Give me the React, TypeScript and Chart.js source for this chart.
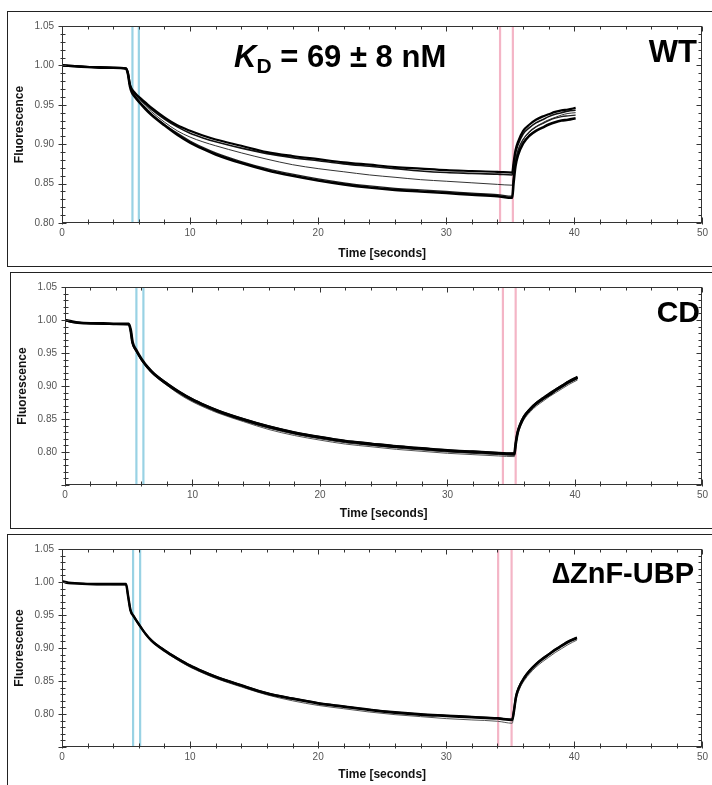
import React, { useEffect, useRef } from "react";
import { Chart, registerables } from "chart.js";

Chart.register(...registerables);

// ---------------- DATA ----------------
const xTickLabels = [0, 10, 20, 30, 40, 50];
const yTickLabels = [0.8, 0.85, 0.9, 0.95, 1.0, 1.05];

// WT panel
const wtTime = [0, 1, 2, 3, 4, 5.0, 5.15, 5.3, 5.45, 5.7, 6, 6.5, 7, 8, 9, 10, 11, 12, 14, 16, 18, 20, 22, 24, 26, 28, 30, 32, 34, 35.15, 35.25, 35.4, 35.6, 36.0, 36.5, 37.0, 37.5, 38.0, 38.5, 39.0, 39.5, 40.1];
const wtTraceA = [1.0, 0.999, 0.998, 0.998, 0.997, 0.996, 0.99, 0.976, 0.97, 0.965, 0.96, 0.953, 0.946, 0.934, 0.924, 0.917, 0.911, 0.906, 0.898, 0.89, 0.885, 0.881, 0.877, 0.874, 0.871, 0.869, 0.867, 0.866, 0.865, 0.864, 0.876, 0.892, 0.903, 0.917, 0.925, 0.931, 0.935, 0.938, 0.941, 0.943, 0.944, 0.946];
const wtTraceB = [1.0, 0.999, 0.998, 0.997, 0.997, 0.996, 0.99, 0.975, 0.969, 0.964, 0.959, 0.951, 0.944, 0.932, 0.922, 0.914, 0.908, 0.903, 0.895, 0.888, 0.883, 0.879, 0.875, 0.872, 0.869, 0.866, 0.864, 0.863, 0.862, 0.861, 0.872, 0.888, 0.899, 0.913, 0.921, 0.927, 0.931, 0.935, 0.938, 0.94, 0.942, 0.943];
const wtTraceC = [1.0, 0.999, 0.998, 0.997, 0.997, 0.996, 0.99, 0.975, 0.968, 0.963, 0.958, 0.949, 0.941, 0.928, 0.917, 0.909, 0.903, 0.898, 0.889, 0.881, 0.874, 0.869, 0.865, 0.861, 0.858, 0.855, 0.853, 0.851, 0.849, 0.848, 0.862, 0.88, 0.892, 0.906, 0.915, 0.922, 0.927, 0.931, 0.934, 0.937, 0.939, 0.94];
const wtTraceD = [1.0, 0.999, 0.998, 0.997, 0.997, 0.996, 0.989, 0.974, 0.966, 0.96, 0.954, 0.945, 0.937, 0.924, 0.912, 0.902, 0.894, 0.887, 0.876, 0.867, 0.86, 0.854, 0.849, 0.845, 0.842, 0.84, 0.838, 0.836, 0.834, 0.832, 0.85, 0.872, 0.886, 0.901, 0.911, 0.917, 0.921, 0.925, 0.928, 0.93, 0.931, 0.933];
const wtTraceE = [1.0, 0.999, 0.998, 0.997, 0.997, 0.996, 0.989, 0.974, 0.967, 0.961, 0.955, 0.946, 0.938, 0.925, 0.914, 0.904, 0.896, 0.889, 0.878, 0.869, 0.862, 0.856, 0.851, 0.847, 0.844, 0.842, 0.84, 0.838, 0.836, 0.834, 0.855, 0.878, 0.892, 0.906, 0.916, 0.922, 0.926, 0.93, 0.933, 0.935, 0.936, 0.937];
const wtCyan = [5.5, 6.0];
const wtPink = [34.2, 35.2];

// CD panel
const cdTime = [0, 0.5, 1, 2, 3, 4, 5.0, 5.15, 5.3, 5.6, 6.0, 6.5, 7, 8, 9, 10, 11, 12, 14, 16, 18, 20, 22, 24, 26, 28, 30, 32, 34, 35.25, 35.35, 35.5, 35.7, 36.0, 36.5, 37.0, 37.5, 38.0, 38.5, 39.0, 39.5, 40.2];
const cdTraceA = [1.0, 0.998, 0.996, 0.995, 0.995, 0.994, 0.994, 0.985, 0.966, 0.954, 0.941, 0.928, 0.918, 0.903, 0.89, 0.879, 0.87, 0.862, 0.849, 0.838, 0.829, 0.822, 0.816, 0.812, 0.808, 0.805, 0.802, 0.8, 0.798, 0.797, 0.812, 0.829, 0.841, 0.853, 0.865, 0.874, 0.881, 0.887, 0.894, 0.9, 0.906, 0.913];
const cdTraceB = [1.0, 0.997, 0.996, 0.995, 0.994, 0.994, 0.993, 0.984, 0.965, 0.953, 0.94, 0.928, 0.918, 0.904, 0.891, 0.88, 0.871, 0.863, 0.85, 0.839, 0.83, 0.823, 0.817, 0.813, 0.809, 0.806, 0.803, 0.801, 0.799, 0.798, 0.813, 0.83, 0.842, 0.854, 0.866, 0.875, 0.882, 0.889, 0.895, 0.901, 0.907, 0.914];
const cdTraceC = [1.0, 0.998, 0.996, 0.995, 0.994, 0.994, 0.993, 0.984, 0.965, 0.953, 0.939, 0.926, 0.916, 0.901, 0.887, 0.876, 0.867, 0.859, 0.846, 0.834, 0.825, 0.818, 0.812, 0.808, 0.804, 0.801, 0.798, 0.796, 0.794, 0.793, 0.808, 0.825, 0.837, 0.849, 0.861, 0.87, 0.877, 0.884, 0.89, 0.896, 0.902, 0.909];
const cdTraceD = [1.0, 0.998, 0.997, 0.995, 0.995, 0.994, 0.994, 0.985, 0.966, 0.954, 0.94, 0.927, 0.917, 0.902, 0.889, 0.877, 0.868, 0.86, 0.847, 0.836, 0.827, 0.82, 0.814, 0.81, 0.806, 0.803, 0.8, 0.798, 0.796, 0.795, 0.81, 0.827, 0.839, 0.851, 0.863, 0.872, 0.879, 0.886, 0.892, 0.898, 0.904, 0.911];
const cdCyan = [5.6, 6.15];
const cdPink = [34.35, 35.35];

// ΔZnF-UBP panel
const znTime = [0, 0.5, 1, 2, 3, 4, 5.0, 5.15, 5.35, 5.6, 6.0, 6.5, 7, 8, 9, 10, 11, 12, 14, 16, 18, 20, 22, 24, 26, 28, 30, 32, 34, 35.15, 35.25, 35.45, 35.7, 36.1, 36.5, 37.0, 37.5, 38.0, 38.5, 39.0, 39.5, 40.2];
const znTraceA = [1.001, 0.999, 0.998, 0.997, 0.997, 0.997, 0.997, 0.98, 0.957, 0.948, 0.936, 0.922, 0.911, 0.896, 0.884, 0.873, 0.864, 0.856, 0.843, 0.831, 0.823, 0.816, 0.811, 0.806, 0.802, 0.799, 0.797, 0.795, 0.793, 0.791, 0.8, 0.826, 0.841, 0.855, 0.865, 0.875, 0.883, 0.89, 0.897, 0.903, 0.909, 0.915];
const znTraceB = [1.001, 0.998, 0.998, 0.997, 0.996, 0.996, 0.996, 0.98, 0.957, 0.948, 0.936, 0.922, 0.911, 0.897, 0.885, 0.874, 0.865, 0.857, 0.844, 0.832, 0.824, 0.817, 0.812, 0.807, 0.803, 0.8, 0.798, 0.796, 0.794, 0.792, 0.802, 0.828, 0.842, 0.856, 0.866, 0.876, 0.884, 0.891, 0.898, 0.904, 0.91, 0.916];
const znTraceC = [1.001, 0.999, 0.998, 0.997, 0.997, 0.996, 0.996, 0.979, 0.956, 0.947, 0.935, 0.921, 0.91, 0.895, 0.882, 0.871, 0.862, 0.854, 0.841, 0.829, 0.82, 0.813, 0.808, 0.803, 0.799, 0.796, 0.793, 0.791, 0.789, 0.786, 0.795, 0.821, 0.837, 0.851, 0.861, 0.871, 0.879, 0.886, 0.893, 0.899, 0.905, 0.912];
const znCyan = [5.55, 6.1];
const znPink = [34.05, 35.1];

// ---------------- STYLE / LAYOUT ----------------
const FONT = "'Liberation Sans', Arial, Helvetica, sans-serif";
const CYAN = "#99d2e4";
const PINK = "#f4b5c6";
const PAGE_W = 712;

type Trace = { values: number[]; width: number; color: string };
type PanelCfg = {
  box: { left: number; top: number; bottom: number };
  plot: { left: number; right: number; top: number; bottom: number };
  times: number[];
  traces: Trace[];
  cyan: number[];
  pink: number[];
  yMin: number;
  yTitleX: number;
  xTitleY: number;
  drawLabels: (ctx: CanvasRenderingContext2D, ox: number, oy: number) => void;
};

function drawFrame(chart: any, yMin: number) {
  const { ctx, chartArea: a, scales } = chart;
  const x = scales.x;
  const y = scales.y;
  ctx.save();
  ctx.strokeStyle = "#333";
  ctx.lineWidth = 1;
  const L = Math.round(a.left) + 0.5;
  const R = Math.round(a.right) - 0.5;
  const T = Math.round(a.top) + 0.5;
  const B = Math.round(a.bottom) - 0.5;
  ctx.strokeRect(L, T, R - L, B - T);
  ctx.beginPath();
  for (let i = 0; i <= 25; i++) {
    const v = i * 2;
    const px = Math.round(x.getPixelForValue(v)) + 0.5;
    const major = i % 5 === 0;
    const up = major ? 5 : 3;
    ctx.moveTo(px, B - up);
    ctx.lineTo(px, B + 2);
    ctx.moveTo(px, T);
    ctx.lineTo(px, T + up);
  }
  const n = Math.round((1.05 - yMin) * 100);
  for (let i = 0; i <= n; i++) {
    const v = yMin + i / 100;
    const py = Math.round(y.getPixelForValue(v)) + 0.5;
    const major = Math.round(v * 100) % 5 === 0;
    ctx.moveTo(L - (major ? 4 : 2), py);
    ctx.lineTo(L + (major ? 4 : 3), py);
    ctx.moveTo(R, py);
    ctx.lineTo(R - (major ? 5 : 3), py);
  }
  ctx.stroke();
  ctx.restore();
}

function Panel({ cfg }: { cfg: PanelCfg }) {
  const ref = useRef<HTMLCanvasElement | null>(null);
  const cLeft = cfg.box.left + 1;
  const cTop = cfg.box.top + 1;
  const cW = PAGE_W - cLeft;
  const cH = cfg.box.bottom - cfg.box.top - 1;

  useEffect(() => {
    if (!ref.current) return;
    const { plot, yMin } = cfg;
    const datasets: any[] = cfg.traces.map((t) => ({
      data: cfg.times.map((tm, i) => ({ x: tm, y: t.values[i] })),
      borderColor: t.color,
      borderWidth: t.width,
      pointRadius: 0,
      fill: false,
      cubicInterpolationMode: "monotone",
      borderJoinStyle: "round",
    }));
    [...cfg.cyan.map((v) => [v, CYAN]), ...cfg.pink.map((v) => [v, PINK])].forEach(([v, c]) => {
      datasets.push({
        data: [
          { x: v, y: yMin },
          { x: v, y: 1.05 },
        ],
        borderColor: c,
        borderWidth: 2.2,
        pointRadius: 0,
        fill: false,
      });
    });
    const yTitleSize = 12;
    const xTitleSize = 12;
    const chart = new Chart(ref.current, {
      type: "line",
      data: { datasets },
      options: {
        animation: false,
        responsive: false,
        maintainAspectRatio: false,
        events: [],
        layout: {
          padding: { left: 0, top: plot.top - cTop, right: cLeft + cW - plot.right, bottom: 0 },
        },
        plugins: { legend: { display: false }, tooltip: { enabled: false } },
        scales: {
          x: {
            type: "linear",
            min: 0,
            max: 50,
            grid: { display: false, drawTicks: false },
            border: { display: false },
            afterBuildTicks: (s: any) => {
              s.ticks = xTickLabels.map((v) => ({ value: v }));
            },
            afterFit: (s: any) => {
              s.height = cTop + cH - plot.bottom;
            },
            ticks: {
              padding: 4,
              color: "#555",
              font: { family: FONT, size: 10 },
              autoSkip: false,
              maxRotation: 0,
              callback: (v: any) => String(v),
            },
            title: {
              display: true,
              text: "Time [seconds]",
              color: "#111",
              font: { family: FONT, size: xTitleSize, weight: "bold" },
              padding: { top: 0, bottom: cfg.box.bottom - cfg.xTitleY - (xTitleSize * 1.2) / 2 },
            },
          },
          y: {
            type: "linear",
            min: yMin,
            max: 1.05,
            grid: { display: false, drawTicks: false },
            border: { display: false },
            afterBuildTicks: (s: any) => {
              s.ticks = yTickLabels.map((v) => ({ value: v }));
            },
            afterFit: (s: any) => {
              s.width = plot.left - cLeft;
            },
            ticks: {
              padding: 8,
              color: "#555",
              font: { family: FONT, size: 10 },
              autoSkip: false,
              callback: (v: any) => Number(v).toFixed(2),
            },
            title: {
              display: true,
              text: "Fluorescence",
              color: "#111",
              font: { family: FONT, size: yTitleSize, weight: "bold" },
              padding: { top: cfg.yTitleX - cLeft - (yTitleSize * 1.2) / 2, bottom: 0 },
            },
          },
        },
      } as any,
      plugins: [
        {
          id: "frameAndLabels",
          afterDatasetsDraw(chart: any) {
            drawFrame(chart, yMin);
            const ctx = chart.ctx as CanvasRenderingContext2D;
            ctx.save();
            cfg.drawLabels(ctx, cLeft, cTop);
            ctx.restore();
          },
        },
      ],
    });
    return () => chart.destroy();
  }, []);

  return (
    <>
      <div
        style={{
          position: "absolute",
          left: cfg.box.left,
          top: cfg.box.top,
          width: 760 - cfg.box.left,
          height: cfg.box.bottom - cfg.box.top + 1,
          border: "1px solid #222",
          boxSizing: "border-box",
        }}
      />
      <canvas
        ref={ref}
        width={cW}
        height={cH}
        style={{ position: "absolute", left: cLeft, top: cTop, width: cW, height: cH }}
      />
    </>
  );
}

const panels: PanelCfg[] = [
  {
    box: { left: 7, top: 11, bottom: 266 },
    plot: { left: 62, right: 709, top: 18, bottom: 223 },
    times: wtTime,
    traces: [
      { values: wtTraceD, width: 2.6, color: "#000" },
      { values: wtTraceA, width: 2.2, color: "#000" },
      { values: wtTraceB, width: 1.6, color: "#111" },
      { values: wtTraceE, width: 1.3, color: "#222" },
      { values: wtTraceC, width: 1, color: "#333" },
    ],
    cyan: wtCyan,
    pink: wtPink,
    yMin: 0.8,
    yTitleX: 20,
    xTitleY: 254,
    drawLabels: (ctx, ox, oy) => {
      ctx.fillStyle = "#000";
      ctx.textBaseline = "alphabetic";
      ctx.textAlign = "left";
      let x = 234 - ox;
      const base = 67 - oy;
      ctx.font = `italic bold 31px ${FONT}`;
      ctx.fillText("K", x, base);
      x += ctx.measureText("K").width;
      ctx.font = `bold 21px ${FONT}`;
      ctx.fillText("D", x, base + 6);
      x += ctx.measureText("D").width;
      ctx.font = `bold 31px ${FONT}`;
      ctx.fillText(" = 69 ± 8 nM", x, base);
      ctx.textAlign = "right";
      ctx.font = `bold 31px ${FONT}`;
      ctx.fillText("WT", 697 - ox, 62 - oy);
    },
  },
  {
    box: { left: 10, top: 272, bottom: 528 },
    plot: { left: 65, right: 708, top: 279, bottom: 485 },
    times: cdTime,
    traces: [
      { values: cdTraceA, width: 2.8, color: "#000" },
      { values: cdTraceB, width: 2, color: "#000" },
      { values: cdTraceD, width: 1, color: "#444" },
      { values: cdTraceC, width: 1, color: "#555" },
    ],
    cyan: cdCyan,
    pink: cdPink,
    yMin: 0.75,
    yTitleX: 23,
    xTitleY: 514,
    drawLabels: (ctx, ox, oy) => {
      ctx.fillStyle = "#000";
      ctx.textBaseline = "alphabetic";
      ctx.textAlign = "right";
      ctx.font = `bold 30px ${FONT}`;
      ctx.fillText("CD", 700 - ox, 322 - oy);
    },
  },
  {
    box: { left: 7, top: 534, bottom: 800 },
    plot: { left: 62, right: 709, top: 542, bottom: 747 },
    times: znTime,
    traces: [
      { values: znTraceA, width: 2.5, color: "#000" },
      { values: znTraceB, width: 1.8, color: "#000" },
      { values: znTraceC, width: 1, color: "#555" },
    ],
    cyan: znCyan,
    pink: znPink,
    yMin: 0.75,
    yTitleX: 20,
    xTitleY: 775,
    drawLabels: (ctx, ox, oy) => {
      ctx.fillStyle = "#000";
      ctx.textBaseline = "alphabetic";
      ctx.textAlign = "right";
      ctx.font = `bold 29px ${FONT}`;
      ctx.fillText("∆ZnF-UBP", 694 - ox, 583 - oy);
    },
  },
];

export default function App() {
  return (
    <div
      style={{
        position: "absolute",
        left: 0,
        top: 0,
        width: PAGE_W,
        height: 785,
        overflow: "hidden",
        background: "#fff",
      }}
    >
      {panels.map((p, i) => (
        <Panel key={i} cfg={p} />
      ))}
    </div>
  );
}
